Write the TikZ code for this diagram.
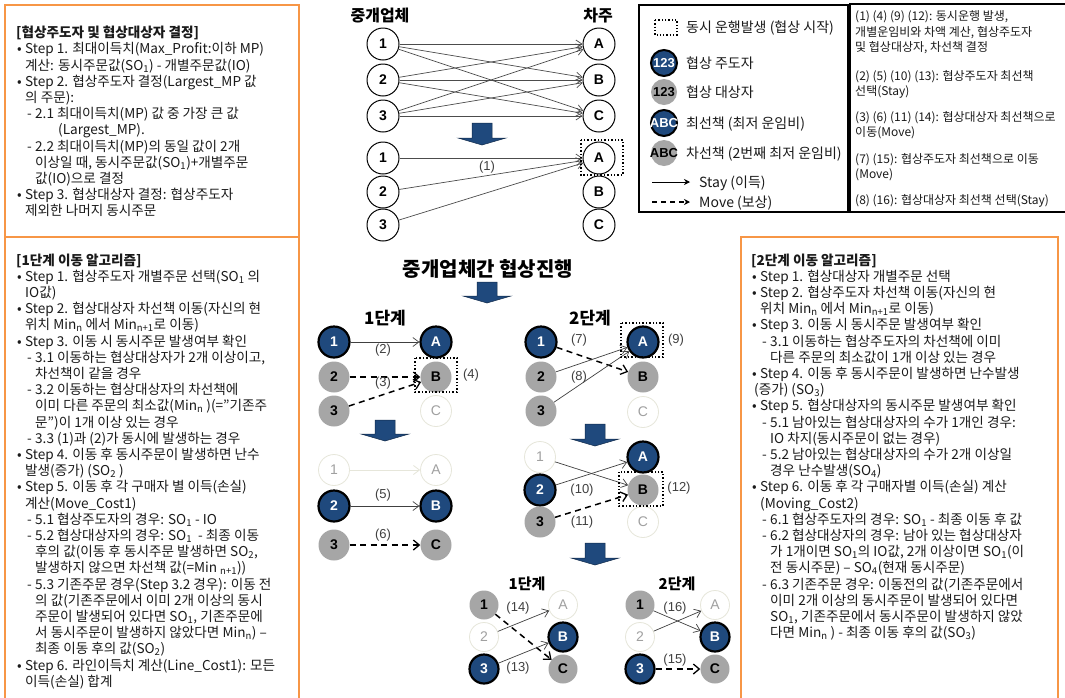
\documentclass[tikz,border=0pt]{standalone}
\usepackage{fontspec}
\setmainfont{Noto Sans CJK KR}
\newfontfamily\lab{Liberation Sans}
\usetikzlibrary{arrows.meta}
\definecolor{orng}{HTML}{F79646}
\definecolor{dblue}{HTML}{1F497D}
\definecolor{gnode}{HTML}{A6A6A6}
\definecolor{faint}{HTML}{E6E6DA}
\definecolor{fainttxt}{HTML}{A0A0A0}
\definecolor{txt}{HTML}{1A1A1A}
\newcommand\sbs[1]{\textsubscript{#1}}
\newcommand\LBul[1]{\makebox[9pt][l]{\hspace{1pt}•}#1}
\newcommand\LBc[1]{\hspace*{9pt}#1}
\newcommand\LSub[1]{\hspace*{11pt}\makebox[8pt][l]{-}#1}
\newcommand\LSc[1]{\hspace*{19pt}#1}
\newcommand\tlines[4]{\foreach \lineT [count=\i] in {#4} {\node[btext, anchor=base west] (#1\i) at (#2, #3+16.2*\i-16.2) {\lineT};}}
\newcommand\blkarrow[3]{\fill[dblue, draw=dblue!60!black, line width=0.5pt] (#1-10,#2) -- (#1+10,#2) -- (#1+10,#3-7) -- (#1+24,#3-7) -- (#1,#3) -- (#1-24,#3-7) -- (#1-10,#3-7) -- cycle;}
\tikzset{
  btext/.style={font=\fontsize{13.6}{16}\selectfont, text=txt, inner sep=0pt},
  ltext/.style={font=\fontsize{14}{15}\selectfont, text=txt, inner sep=0pt, anchor=base west},
  rtext/.style={font=\fontsize{12}{14}\selectfont, text=txt, inner sep=0pt, anchor=base west},
  nd/.style={circle, inner sep=0pt, minimum size=31pt, font=\lab\bfseries\fontsize{14}{14}\selectfont},
  plainc/.style={nd, draw=black, line width=1pt, fill=white, minimum size=32pt},
  leadc/.style={nd, draw=black, line width=2.2pt, fill=dblue, text=white},
  tgtc/.style={nd, fill=gnode, text=black},
  fadec/.style={nd, draw=faint, line width=0.8pt, fill=white, text=fainttxt, font=\lab\fontsize{14}{14}\selectfont},
  small/.style={minimum size=29pt},
  stay/.style={draw=black!75, line width=0.7pt, -{Straight Barb[length=6pt,width=9pt]}},
  move/.style={draw=black, line width=1.5pt, dash pattern=on 6pt off 4.5pt, -{Straight Barb[length=6pt,width=10pt,line width=1.3pt]}},
  fadeedge/.style={draw=faint, line width=0.8pt, -{Straight Barb[length=6pt,width=9pt]}},
  alledge/.style={draw=black!70, line width=0.7pt, -{Straight Barb[length=6pt,width=8pt]}},
  dotbox/.style={draw=black, line width=1.4pt, dotted},
  elab/.style={font=\lab\fontsize{13}{13}\selectfont, text=black!75, inner sep=0pt},
  ktitle/.style={font=\bfseries\fontsize{16}{16}\selectfont, text=black, inner sep=0pt},
  obox/.style={draw=orng, line width=2.5pt},
  lgbox/.style={draw=black, line width=2pt}
}
\begin{document}
\begin{tikzpicture}[x=1pt,y=-1pt]
\useasboundingbox (0,0) rectangle (1065,697);
\fill[white] (0,0) rectangle (1065,697);
\clip (0,0) rectangle (1065,697);

% ---------- orange boxes ----------
\draw[obox] (5,5) rectangle (299,237);
\draw[obox] (5,237) rectangle (299,720);
\draw[obox] (741,237) rectangle (1058,720);

% ---------- top-left text ----------
\tlines{tl}{16}{37.7}{{{\bfseries [협상주도자 및 협상대상자 결정]}},
{\LBul{Step 1. 최대이득치(Max\_Profit:이하 MP)}},
{\LBc{계산: 동시주문값(SO\sbs{1}) - 개별주문값(IO)}},
{\LBul{Step 2. 협상주도자 결정(Largest\_MP 값}},
{\LBc{의 주문):}},
{\LSub{2.1 최대이득치(MP) 값 중 가장 큰 값}},
{\hspace*{42pt}(Largest\_MP).},
{\LSub{2.2 최대이득치(MP)의 동일 값이 2개}},
{\LSc{이상일 때, 동시주문값(SO\sbs{1})+개별주문}},
{\LSc{값(IO)으로 결정}},
{\LBul{Step 3. 협상대상자 결정: 협상주도자}},
{\LBc{제외한 나머지 동시주문}}}

% ---------- left lower text ----------
\tlines{ll}{16}{265}{{{\bfseries [1단계 이동 알고리즘]}},
{\LBul{Step 1. 협상주도자 개별주문 선택(SO\sbs{1} 의}},
{\LBc{IO값)}},
{\LBul{Step 2. 협상대상자 차선책 이동(자신의 현}},
{\LBc{위치 Min\sbs{n} 에서 Min\sbs{n+1}로 이동)}},
{\LBul{Step 3. 이동 시 동시주문 발생여부 확인}},
{\LSub{3.1 이동하는 협상대상자가 2개 이상이고,}},
{\LSc{차선책이 같을 경우}},
{\LSub{3.2 이동하는 협상대상자의 차선책에}},
{\LSc{이미 다른 주문의 최소값(Min\sbs{n} )(="기존주}},
{\LSc{문")이 1개 이상 있는 경우}},
{\LSub{3.3 (1)과 (2)가 동시에 발생하는 경우}},
{\LBul{Step 4. 이동 후 동시주문이 발생하면 난수}},
{\LBc{발생(증가) (SO\sbs{2} )}},
{\LBul{Step 5. 이동 후 각 구매자 별 이득(손실)}},
{\LBc{계산(Move\_Cost1)}},
{\LSub{5.1 협상주도자의 경우: SO\sbs{1} - IO}},
{\LSub{5.2 협상대상자의 경우: SO\sbs{1}\ \ - 최종 이동}},
{\LSc{후의 값(이동 후 동시주문 발생하면 SO\sbs{2},}},
{\LSc{발생하지 않으면 차선책 값(=Min \sbs{n+1}))}},
{\LSub{5.3 기존주문 경우(Step 3.2 경우): 이동 전}},
{\LSc{의 값(기존주문에서 이미 2개 이상의 동시}},
{\LSc{주문이 발생되어 있다면 SO\sbs{1}, 기존주문에}},
{\LSc{서 동시주문이 발생하지 않았다면 Min\sbs{n}) –}},
{\LSc{최종 이동 후의 값(SO\sbs{2})}},
{\LBul{Step 6. 라인이득치 계산(Line\_Cost1): 모든}},
{\LBc{이득(손실) 합계}}}

% ---------- right text ----------
\tlines{rr}{751}{265}{{{\bfseries [2단계 이동 알고리즘]}},
{\LBul{Step 1. 협상대상자 개별주문 선택}},
{\LBul{Step 2. 협상주도자 차선책 이동(자신의 현}},
{\LBc{위치 Min\sbs{n} 에서 Min\sbs{n+1}로 이동)}},
{\LBul{Step 3. 이동 시 동시주문 발생여부 확인}},
{\LSub{3.1 이동하는 협상주도자의 차선책에 이미}},
{\LSc{다른 주문의 최소값이 1개 이상 있는 경우}},
{\LBul{Step 4. 이동 후 동시주문이 발생하면 난수발생}},
{\hspace*{3pt}(증가) (SO\sbs{3})},
{\LBul{Step 5. 협상대상자의 동시주문 발생여부 확인}},
{\LSub{5.1 남아있는 협상대상자의 수가 1개인 경우:}},
{\LSc{IO 차지(동시주문이 없는 경우)}},
{\LSub{5.2 남아있는 협상대상자의 수가 2개 이상일}},
{\LSc{경우 난수발생(SO\sbs{4})}},
{\LBul{Step 6. 이동 후 각 구매자별 이득(손실) 계산}},
{\LBc{(Moving\_Cost2)}},
{\LSub{6.1 협상주도자의 경우: SO\sbs{1} - 최종 이동 후 값}},
{\LSub{6.2 협상대상자의 경우: 남아 있는 협상대상자}},
{\LSc{가 1개이면 SO\sbs{1}의 IO값, 2개 이상이면 SO\sbs{1}(이}},
{\LSc{전 동시주문) – SO\sbs{4}(현재 동시주문)}},
{\LSub{6.3 기존주문 경우: 이동전의 값(기존주문에서}},
{\LSc{이미 2개 이상의 동시주문이 발생되어 있다면}},
{\LSc{SO\sbs{1}, 기존주문에서 동시주문이 발생하지 않았}},
{\LSc{다면 Min\sbs{n} ) - 최종 이동 후의 값(SO\sbs{3})}}}

% ---------- legend ----------
\draw[lgbox] (639,5) rectangle (848,212);
\draw[lgbox] (850,4) rectangle (1075,212);
\draw[black, line width=1.3pt, dotted] (655,20) rectangle (677,35);
\node[ltext] (lgt1) at (686,32) {동시 운행발생 (협상 시작)};
\node[leadc, minimum size=26pt, line width=2pt] (lgc1) at (664,63) {};
\node[font=\lab\bfseries\fontsize{13}{13}\selectfont, text=white, inner sep=0pt] (lgc1t) at (lgc1) {123};
\node[ltext] (lgt2) at (686,68) {협상 주도자};
\node[tgtc, minimum size=26pt] (lgc2) at (664,92) {};
\node[font=\lab\bfseries\fontsize{13}{13}\selectfont, text=black, inner sep=0pt] (lgc2t) at (lgc2) {123};
\node[ltext] (lgt3) at (686,97) {협상 대상자};
\node[leadc, minimum size=26pt, line width=2pt] (lgc3) at (664,123) {};
\node[font=\lab\bfseries\fontsize{13}{13}\selectfont, text=white, inner sep=0pt] (lgc3t) at (lgc3) {ABC};
\node[ltext] (lgt4) at (686,128) {최선책 (최저 운임비)};
\node[tgtc, minimum size=26pt] (lgc4) at (664,153) {};
\node[font=\lab\bfseries\fontsize{13}{13}\selectfont, text=black, inner sep=0pt] (lgc4t) at (lgc4) {ABC};
\node[ltext] (lgt5) at (686,158) {차선책 (2번째 최저 운임비)};
\coordinate (lgs1) at (652,182);
\coordinate (lgs2) at (690,182);
\draw[black, line width=0.8pt, -{Stealth[length=6pt,width=6pt]}] (lgs1) -- (lgs2);
\node[ltext] (lgt6) at (699,187) {Stay (이득)};
\coordinate (lgm1) at (652,202);
\coordinate (lgm2) at (690,202);
\draw[black, line width=1.5pt, dash pattern=on 5pt off 4pt, -{Stealth[length=6pt,width=6pt]}] (lgm1) -- (lgm2);
\node[ltext] (lgt7) at (699,207) {Move (보상)};

\node[rtext] (rt1) at (855,20.5) {(1) (4) (9) (12): 동시운행 발생,};
\node[rtext] (rt2) at (855,36) {개별운임비와 차액 계산, 협상주도자};
\node[rtext] (rt3) at (855,51) {및 협상대상자, 차선책 결정};
\node[rtext] (rt4) at (855,80.5) {(2) (5) (10) (13): 협상주도자 최선책};
\node[rtext] (rt5) at (855,95) {선택(Stay)};
\node[rtext] (rt6) at (855,121.5) {(3) (6) (11) (14): 협상대상자 최선책으로};
\node[rtext] (rt7) at (855,136) {이동(Move)};
\node[rtext] (rt8) at (855,163.5) {(7) (15): 협상주도자 최선책으로 이동};
\node[rtext] (rt9) at (855,178) {(Move)};
\node[rtext] (rt10) at (855,204.5) {(8) (16): 협상대상자 최선책 선택(Stay)};

% ---------- top graph ----------
\node[ktitle] (hdl) at (380,16) {중개업체};
\node[ktitle] (hdr) at (598,16) {차주};
\foreach \n/\y in {1/44,2/80,3/116} {\node[plainc] (t\n) at (383,\y) {\n};}
\foreach \n/\y in {A/44,B/80,C/116} {\node[plainc] (t\n) at (599,\y) {\n};}
\foreach \a in {1,2,3} {\foreach \b in {A,B,C} {\draw[alledge] (t\a) -- (t\b);}}
\blkarrow{482}{123}{145}
\foreach \n/\y in {1/158,2/192,3/225} {\node[plainc] (u\n) at (383,\y) {\n};}
\foreach \n/\y in {A/158,B/192,C/225} {\node[plainc] (u\n) at (599,\y) {\n};}
\draw[alledge] (u1) -- (uA);
\draw[alledge] (u2) -- (uA);
\draw[alledge] (u3) -- (uA);
\node[elab] (l1) at (487,167) {(1)};
\draw[dotbox] (581,140) rectangle (623,175);

% ---------- negotiation ----------
\node[font=\bfseries\fontsize{20}{20}\selectfont, inner sep=0pt] (neg) at (488,269) {중개업체간 협상진행};
\blkarrow{487}{282}{303}
\node[font=\bfseries\fontsize{17}{17}\selectfont, inner sep=0pt] (s1) at (385,318) {1단계};
\node[font=\bfseries\fontsize{17}{17}\selectfont, inner sep=0pt] (s2) at (590,318) {2단계};

% stage 1
\node[leadc] (a1) at (334,342) {1};
\node[tgtc] (a2) at (334,377) {2};
\node[tgtc] (a3) at (334,411) {3};
\node[leadc] (aA) at (436,342) {A};
\node[tgtc] (aB) at (436,377) {B};
\node[fadec] (aC) at (436,411) {C};
\draw[stay] (a1) -- (aA);
\draw[move] (a2) -- (aB);
\draw[move] (a3) -- (aB);
\draw[dotbox] (415,358) rectangle (457,392);
\node[elab] (l2) at (383,350) {(2)};
\node[elab] (l3) at (383,383) {(3)};
\node[elab] (l4) at (471,375) {(4)};

% stage 2
\node[leadc] (b1) at (541,342) {1};
\node[tgtc] (b2) at (541,377) {2};
\node[tgtc] (b3) at (541,411) {3};
\node[leadc] (bA) at (643,342) {A};
\node[tgtc] (bB) at (643,377) {B};
\node[fadec] (bC) at (643,412) {C};
\draw[move] (b1) -- (bB);
\draw[stay] (b2) -- (bA);
\draw[stay] (b3) -- (bA);
\draw[dotbox] (621,323) rectangle (663,357);
\node[elab] (l7) at (579,340) {(7)};
\node[elab] (l8) at (579,377) {(8)};
\node[elab] (l9) at (676,340) {(9)};

\blkarrow{385}{420}{441}
\blkarrow{595}{424}{446}

% stage 1 after
\node[fadec] (c1) at (334,470) {1};
\node[leadc] (c2) at (334,506) {2};
\node[tgtc] (c3) at (334,545) {3};
\node[fadec] (cA) at (436,470) {A};
\node[leadc] (cB) at (436,506) {B};
\node[tgtc] (cC) at (436,545) {C};
\draw[fadeedge] (c1) -- (cA);
\draw[stay] (c2) -- (cB);
\draw[move] (c3) -- (cC);
\node[elab] (l5) at (383,495) {(5)};
\node[elab] (l6) at (383,535) {(6)};

% stage 2 after
\node[fadec] (d1) at (540,457) {1};
\node[leadc] (d2) at (540,490) {2};
\node[tgtc] (d3) at (540,522) {3};
\node[leadc] (dA) at (643,457) {A};
\node[tgtc] (dB) at (643,490) {B};
\node[fadec] (dC) at (643,522) {C};
\draw[stay] (d1) -- (dB);
\draw[stay] (d2) -- (dA);
\draw[move] (d3) -- (dB);
\draw[dotbox] (619,472) rectangle (663,506);
\node[elab] (l10) at (582,490) {(10)};
\node[elab] (l11) at (582,522) {(11)};
\node[elab] (l12) at (679,488) {(12)};

\blkarrow{595}{543}{565}
\node[font=\bfseries\fontsize{15}{15}\selectfont, inner sep=0pt] (s3) at (527,584) {1단계};
\node[font=\bfseries\fontsize{15}{15}\selectfont, inner sep=0pt] (s4) at (677,584) {2단계};

% bottom left
\node[tgtc, small] (e1) at (484,605) {1};
\node[fadec, small] (e2) at (484,637) {2};
\node[leadc, small] (e3) at (484,669) {3};
\node[fadec, small] (eA) at (563,605) {A};
\node[leadc, small] (eB) at (563,637) {B};
\node[tgtc, small] (eC) at (563,669) {C};
\draw[move] (e1) -- (eC);
\draw[stay] (e2) -- (eA);
\draw[stay] (e3) -- (eB);
\node[elab] (l14) at (518,608) {(14)};
\node[elab] (l13) at (518,668) {(13)};

% bottom right
\node[tgtc, small] (f1) at (640,605) {1};
\node[fadec, small] (f2) at (640,637) {2};
\node[leadc, small] (f3) at (640,669) {3};
\node[fadec, small] (fA) at (715,605) {A};
\node[leadc, small] (fB) at (715,637) {B};
\node[tgtc, small] (fC) at (715,669) {C};
\draw[stay] (f1) -- (fB);
\draw[stay] (f2) -- (fA);
\draw[move] (f3) -- (fC);
\node[elab] (l16) at (675,608) {(16)};
\node[elab] (l15) at (675,660) {(15)};
\end{tikzpicture}
\end{document}
